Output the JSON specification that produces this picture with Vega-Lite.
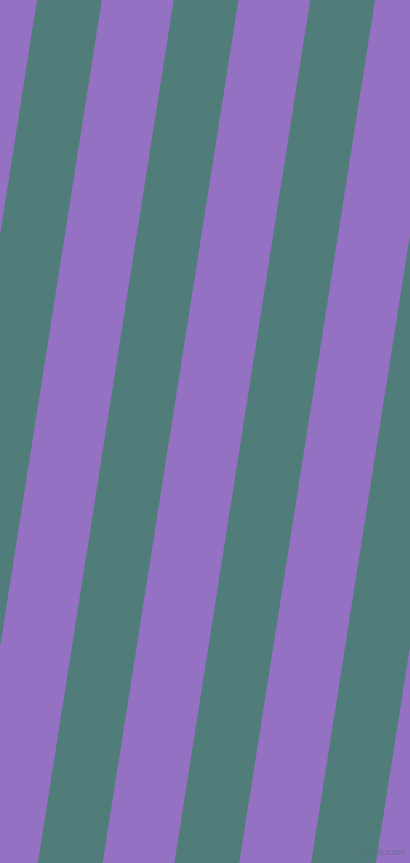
{
  "$schema": "https://vega.github.io/schema/vega-lite/v6.json",
  "width": 410,
  "height": 863,
  "autosize": {"type": "fit", "contains": "padding"},
  "padding": 0,
  "background": "#9471C3",
  "config": {"view": {"stroke": null}},
  "layer": [
    {
      "data": {
        "values": [
          {"stripe": "a", "y": 0, "xl": 37, "xr": 101.8},
          {"stripe": "a", "y": 863, "xl": -98.8, "xr": -34},
          {"stripe": "b", "y": 0, "xl": 173.7, "xr": 238.4},
          {"stripe": "b", "y": 863, "xl": 37.9, "xr": 102.6},
          {"stripe": "c", "y": 0, "xl": 310.2, "xr": 375},
          {"stripe": "c", "y": 863, "xl": 174.4, "xr": 239.2},
          {"stripe": "d", "y": 0, "xl": 446.9, "xr": 511.7},
          {"stripe": "d", "y": 863, "xl": 311.1, "xr": 375.9}
        ]
      },
      "mark": {"type": "area", "orient": "horizontal", "color": "#507D79", "clip": true},
      "encoding": {
        "y": {"field": "y", "type": "quantitative", "scale": {"domain": [0, 863], "reverse": true, "nice": false, "zero": false}, "axis": null},
        "x": {"field": "xl", "type": "quantitative", "scale": {"domain": [0, 410], "nice": false, "zero": false}, "axis": null},
        "x2": {"field": "xr"},
        "detail": {"field": "stripe", "type": "nominal"}
      }
    },
    {
      "data": {"values": [{"label": "pixlis.com", "y": 852, "x": 383}]},
      "mark": {"type": "text", "fontSize": 9, "font": "DejaVu Sans", "color": "#5E6B84", "opacity": 0.7, "align": "center", "baseline": "middle"},
      "encoding": {
        "y": {"field": "y", "type": "quantitative"},
        "x": {"field": "x", "type": "quantitative"},
        "text": {"field": "label"}
      }
    }
  ]
}
